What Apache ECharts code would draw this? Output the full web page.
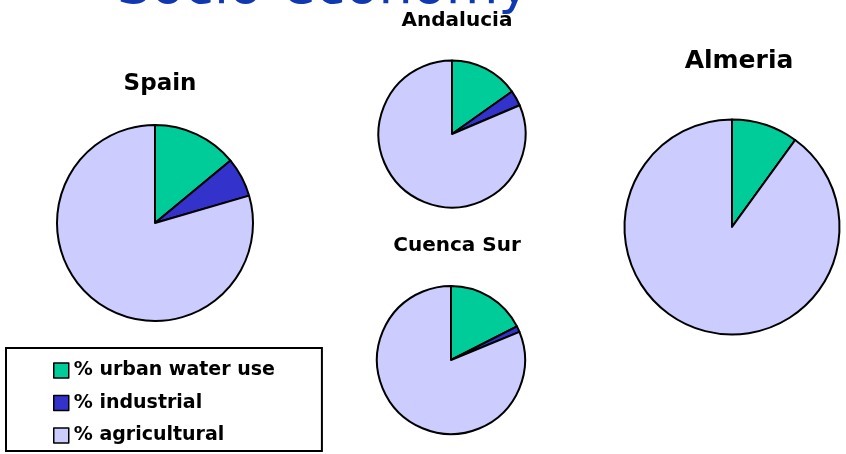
<!DOCTYPE html>
<html>
<head>
<meta charset="utf-8">
<style>
  html, body { margin: 0; padding: 0; background: #ffffff; }
  #chart { width: 846px; height: 454px; }
</style>
<script src="https://cdn.jsdelivr.net/npm/echarts@6/dist/echarts.min.js"></script>
</head>
<body>
<div id="chart"></div>
<script>
// ---- data ----
const categories = ['% urban water use', '% industrial', '% agricultural'];
const regions = ['Spain', 'Andalucia', 'Cuenca Sur', 'Almeria'];
const spainValues = [14, 6.5, 79.5];
const andaluciaValues = [15.2, 3.4, 81.4];
const cuencaSurValues = [17.5, 1.3, 81.2];
const almeriaValues = [10, 0, 90];
const mainTitle = 'Socio-economy';

const sliceColors = ['#00CC99', '#3333CC', '#CCCCFF'];

const chart = echarts.init(document.getElementById('chart'), null, { renderer: 'canvas' });

function pieSeries(name, values, center, radius) {
  return {
    name: name,
    type: 'pie',
    center: center,
    radius: radius,
    startAngle: 90,
    clockwise: true,
    animation: false,
    silent: true,
    label: { show: false },
    labelLine: { show: false },
    itemStyle: { borderColor: '#000000', borderWidth: 2 },
    emphasis: { disabled: true },
    data: categories.map((c, i) => ({ name: c, value: values[i] }))
  };
}

const titleFont = 'DejaVu Sans';

const option = {
  animation: false,
  color: sliceColors,
  title: [
    { text: mainTitle, left: 112, top: -43, textStyle: { fontFamily: titleFont, fontWeight: 'normal', fontSize: 54, color: '#1038B0' } },
    { text: regions[0], left: 155, top: 67.5, textAlign: 'center', textStyle: { fontFamily: titleFont, fontWeight: 'bold', fontSize: 23, color: '#000' } },
    { text: regions[1], left: 452, top: 5.5, textAlign: 'center', textStyle: { fontFamily: titleFont, fontWeight: 'bold', fontSize: 20, color: '#000' } },
    { text: regions[2], left: 452, top: 230.5, textAlign: 'center', textStyle: { fontFamily: titleFont, fontWeight: 'bold', fontSize: 20, color: '#000' } },
    { text: regions[3], left: 734, top: 44, textAlign: 'center', textStyle: { fontFamily: titleFont, fontWeight: 'bold', fontSize: 25, color: '#000' } }
  ],
  legend: {
    data: categories,
    orient: 'vertical',
    left: 6,
    top: 348,
    padding: [13, 47, 6, 47],
    itemGap: 13.5,
    itemWidth: 15,
    itemHeight: 15,
    icon: 'rect',
    borderColor: '#000000',
    borderWidth: 2,
    selectedMode: false,
    itemStyle: { borderColor: '#000000', borderWidth: 1.5 },
    textStyle: { fontFamily: titleFont, fontWeight: 'bold', fontSize: 19, color: '#000', lineHeight: 19 }
  },
  series: [
    pieSeries(regions[0], spainValues, [155, 223], 98),
    pieSeries(regions[1], andaluciaValues, [452, 134], 73.5),
    pieSeries(regions[2], cuencaSurValues, [451, 360], 74),
    pieSeries(regions[3], almeriaValues, [732, 227], 107.5)
  ]
};

chart.setOption(option);
</script>
</body>
</html>
